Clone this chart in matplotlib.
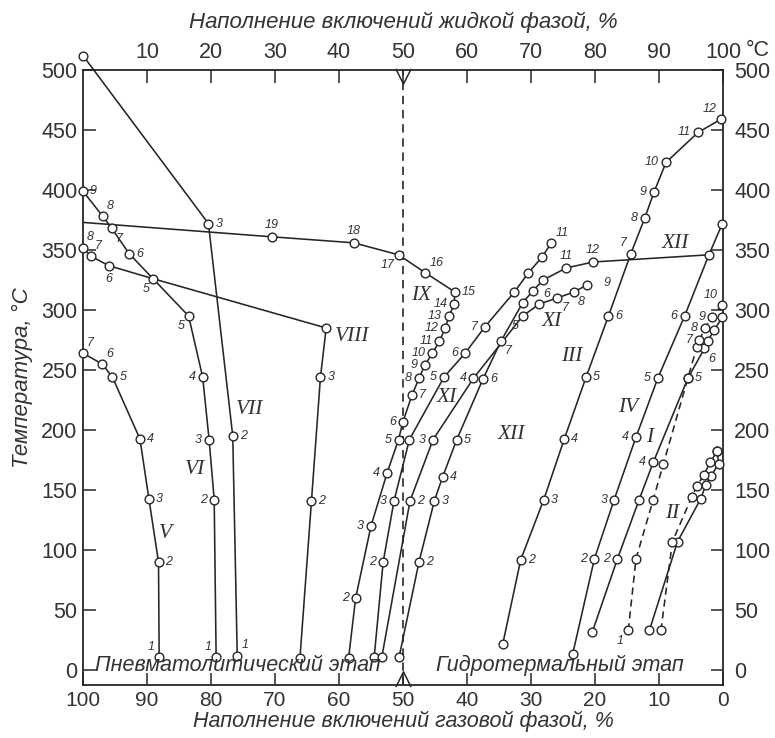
import matplotlib
matplotlib.use("Agg")
import matplotlib.pyplot as plt
from matplotlib.path import Path
from matplotlib.markers import MarkerStyle

# ---------------- data ----------------
# x: filling of inclusions with the liquid phase, %  (gas phase = 100 - x)
# t: temperature, °C ; points listed from No. 1 upwards
V_x = [11.9, 11.8, 10.3, 8.9, 4.6, 3.0, 0.0]
V_t = [11, 90, 142.5, 192.5, 244, 255, 264]
V_n = [1, 2, 3, 4, 5, 6, 7]

VI_x = [20.8, 20.5, 19.7, 18.7, 16.5, 7.2, 4.5, 3.1, 0.0]
VI_t = [11, 142, 192, 244, 295, 347, 368, 378, 399]
VI_n = [1, 2, 3, 4, 5, 6, 7, 8, 9]

VII_x = [24.1, 23.4, 19.6, 0.0]
VII_t = [12, 195, 372, 512]
VII_n = [1, 2, 3, 0]

VIII_x = [33.9, 35.7, 37.1, 38.0, 11.0, 4.0, 1.2, 0.0]
VIII_t = [10, 141, 244, 285, 326, 337, 345, 352]
VIII_n = [1, 2, 3, 4, 5, 6, 7, 8]

IX_x = [41.5, 42.6, 45.0, 47.5, 49.3, 50.0, 51.4, 52.5, 53.4, 54.6, 55.7,
        56.6, 57.2, 58.0, 58.1, 53.5, 49.3, 42.3, 29.5, 0.0]
IX_t = [10, 60, 120, 164, 192, 207, 229, 243, 254, 264, 274,
        285, 295, 305, 315, 331, 346, 356, 361, 373]
IX_n = [1, 2, 3, 4, 5, 6, 7, 8, 9, 10, 11, 12, 13, 14, 15, 16, 17, 18, 19, None]

XIa_x = [45.5, 46.9, 48.6, 51.0, 56.4, 59.7, 62.8, 67.4, 69.6, 71.7, 73.2]
XIa_t = [11, 90, 141, 192, 244, 264, 286, 315, 331, 344, 356]
XIa_n = [1, 2, 3, 4, 5, 6, 7, 8, 9, 10, 11]

XIb_x = [46.7, 51.1, 54.7, 61.0, 68.7, 71.3, 74.1, 76.7, 78.8]
XIb_t = [11, 141, 192, 243, 295, 305, 310, 315, 321]
XIb_n = [1, 2, 3, 4, 5, 6, 7, 8, 9]

XII_x = [49.4, 52.5, 54.9, 56.2, 58.4, 62.5, 65.3, 68.7, 70.3, 71.9, 75.5, 79.7, 97.8]
XII_t = [11, 90, 141, 161, 192, 242.5, 274, 306, 316, 325, 335, 340, 346]
XII_n = [1, 2, 3, 4, 5, 6, 7, 8, 9, 10, 11, 12, None]

III_x = [65.6, 68.4, 72.0, 75.2, 78.6, 82.1, 85.6, 87.8, 89.2, 91.1, 96.1, 99.7]
III_t = [22, 92, 142, 192.5, 244, 295, 347, 377, 398, 423, 448, 459]
III_n = [1, 2, 3, 4, 5, 6, 7, 8, 9, 10, 11, 12]

IV_x = [76.5, 79.9, 83.0, 86.4, 89.8, 94.0, 97.8, 99.9]
IV_t = [13, 92.5, 142, 194, 243, 295, 346, 372]
IV_n = [1, 2, 3, 4, 5, 6, 7, 8]

I_x = [79.6, 83.5, 86.9, 89.1, 94.5, 97.1, 97.6, 98.6, 99.9]
I_t = [32, 92.5, 142, 173, 243, 268, 274, 283, 294]
I_n = [1, 2, 3, 4, 5, 6, 7, 8, 9]

Id_x = [85.2, 86.4, 89.1, 90.7, 94.5, 95.9, 96.3, 97.2, 98.3, 99.8]
Id_t = [33, 92.5, 142, 172, 243, 269, 275, 285, 294.5, 304]
Id_n = [1, 2, 3, 4, 5, 6, 7, 8, 9, 10]

II_x = [88.5, 92.9, 96.5, 97.3, 98.2, 99.3, 99.1]
II_t = [33, 107, 142.5, 154, 162, 172, 182.5]
II_n = [1, 2, 3, 4, 5, 6, 7]

IId_x = [90.3, 92.1, 95.1, 95.9, 97.0, 98.0, 99.1]
IId_t = [33, 107, 144, 153, 162.5, 173, 182.5]
IId_n = [1, 2, 3, 4, 5, 6, 7]

ROMAN = ["V", "VI", "VII", "VIII", "IX", "XI", "XI", "XII", "XII", "III", "IV", "I", "II"]
ROMAN_x = [12.9, 17.5, 26.1, 42.0, 52.9, 56.8, 73.2, 67.0, 92.5, 76.4, 85.2, 88.6, 92.0]
ROMAN_t = [114, 167, 217, 278, 312, 227, 290, 196, 355.5, 261, 219, 194, 130]

STAGES = ["Пневматолитический этап", "Гидротермальный этап"]
STAGES_x = [24.2, 74.5]
STAGES_t = [4, 4]

top_ticks = [10, 20, 30, 40, 50, 60, 70, 80, 90, 100]
bottom_ticks = [0, 10, 20, 30, 40, 50, 60, 70, 80, 90, 100]
bottom_labels = ["100", "90", "80", "70", "60", "50", "40", "30", "20", "10", "0"]
y_ticks = [0, 50, 100, 150, 200, 250, 300, 350, 400, 450, 500]
boundary_x = 50

# ---------------- style ----------------
plt.rcParams['font.family'] = ['Liberation Sans', 'DejaVu Sans']
LC = '#262626'
LW = 1.15
TC = '#333333'

OFFS = {'r': (5, 0, 'left', 'center'), 'l': (-5, 0, 'right', 'center'),
        'ur': (3, 3, 'left', 'bottom'), 'ul': (-3, 3, 'right', 'bottom'),
        'dr': (3, -3, 'left', 'top'), 'dl': (-3, -3, 'right', 'top'),
        'u': (0, 4, 'center', 'bottom'), 'd': (0, -5, 'center', 'top'),
        'rr': (12, 1, 'left', 'center')}

LAB = {
    'V': {1: 'ul', 2: 'r', 3: 'r', 4: 'r', 5: 'r', 6: 'ur', 7: 'ur'},
    'VI': {1: 'ul', 2: 'l', 3: 'l', 4: 'l', 5: 'dl', 6: 'r', 7: 'dr', 8: 'ur', 9: 'r'},
    'VII': {1: 'ur', 2: 'r', 3: 'r'},
    'VIII': {2: 'r', 3: 'r', 5: 'dl', 6: 'd', 7: 'ur', 8: 'ur'},
    'IX': {2: 'l', 3: 'l', 4: 'l', 5: 'l', 6: 'l', 7: 'r', 8: 'l', 9: 'l', 10: 'l',
           11: 'l', 12: 'l', 13: 'l', 14: 'l', 15: 'r', 16: 'ur', 17: 'dl', 18: 'u', 19: 'u'},
    'XIa': {2: 'l', 3: 'l', 5: 'l', 6: 'l', 7: 'l', 11: 'ur'},
    'XIb': {2: 'r', 3: 'l', 4: 'l', 5: 'dl', 6: 'ur', 7: 'dr', 8: 'dr', 9: 'rr'},
    'XII': {2: 'r', 3: 'r', 4: 'r', 5: 'r', 6: 'r', 7: 'dr', 11: 'u', 12: 'u'},
    'III': {2: 'r', 3: 'r', 4: 'r', 5: 'r', 6: 'r', 7: 'ul', 8: 'l', 9: 'l', 10: 'l',
            11: 'l', 12: 'ul'},
    'IV': {2: 'l', 3: 'l', 4: 'l', 5: 'l', 6: 'l'},
    'I': {2: 'l', 4: 'l', 5: 'r', 6: 'dr'},
    'Id': {1: 'dl', 7: 'l', 8: 'l', 9: 'l', 10: 'ul'},
    'II': {},
    'IId': {},
}

fig = plt.figure(figsize=(7.75, 7.38), dpi=100)
ax = fig.add_axes([83 / 775, 1 - 685 / 738, 640 / 775, 615 / 738])
ax.set_xlim(0, 100)
ax.set_ylim(-12.5, 500)


def draw(name, x, t, n, dashed=False):
    kw = dict(color=LC, lw=LW, zorder=2, clip_on=False)
    if dashed:
        kw['dashes'] = (4.5, 3)
    ax.plot(x, t, **kw)
    mi = [i for i, v in enumerate(n) if v is not None]
    ax.plot([x[i] for i in mi], [t[i] for i in mi], ls='none', marker='o', ms=6.3,
            mfc='white', mec=LC, mew=1.0, zorder=3, clip_on=False)
    for i, v in enumerate(n):
        if v and v in LAB[name]:
            dx, dy, ha, va = OFFS[LAB[name][v]]
            ax.annotate(str(v), (x[i], t[i]), xytext=(dx, dy), textcoords='offset points',
                        ha=ha, va=va, fontsize=9, style='italic', color=TC, zorder=4)


# boundary between stages
ax.plot([boundary_x, boundary_x], [-12.5, 500], color=LC, lw=1.2, dashes=(5, 3.5), zorder=1)
vpath = Path([(-1, 1), (0, -1), (1, 1)], [Path.MOVETO, Path.LINETO, Path.LINETO])
ax.plot([boundary_x], [495], marker=MarkerStyle(vpath), ms=11, mfc='none', mec=LC,
        mew=1.1, clip_on=False, zorder=3)
apath = Path([(-1, -1), (0, 1), (1, -1)], [Path.MOVETO, Path.LINETO, Path.LINETO])
ax.plot([boundary_x], [-7.5], marker=MarkerStyle(apath), ms=11, mfc='none', mec=LC,
        mew=1.1, clip_on=False, zorder=3)

draw('V', V_x, V_t, V_n)
draw('VI', VI_x, VI_t, VI_n)
draw('VII', VII_x, VII_t, VII_n)
draw('VIII', VIII_x, VIII_t, VIII_n)
draw('IX', IX_x, IX_t, IX_n)
draw('XIa', XIa_x, XIa_t, XIa_n)
draw('XIb', XIb_x, XIb_t, XIb_n)
draw('XII', XII_x, XII_t, XII_n)
draw('III', III_x, III_t, III_n)
draw('IV', IV_x, IV_t, IV_n)
draw('I', I_x, I_t, I_n)
draw('Id', Id_x, Id_t, Id_n, dashed=True)
draw('II', II_x, II_t, II_n)
draw('IId', IId_x, IId_t, IId_n, dashed=True)

for r, x, t in zip(ROMAN, ROMAN_x, ROMAN_t):
    ax.text(x, t, r, family=['Liberation Serif', 'DejaVu Serif'], style='italic',
            fontsize=15.5, color=TC, ha='center', va='center', zorder=4)

for s, x, t in zip(STAGES, STAGES_x, STAGES_t):
    ax.text(x, t, s, style='italic', fontsize=15.5, color=TC, ha='center',
            va='center', zorder=4)

# axes, ticks
for sp in ax.spines.values():
    sp.set_color(LC)
    sp.set_linewidth(1.3)

ax.set_xticks(bottom_ticks)
ax.set_xticklabels(bottom_labels)
ax.set_yticks(y_ticks)
ax.tick_params(direction='in', length=9, width=1.1, colors=LC, labelcolor=TC,
               labelsize=15.5)
ax.tick_params(axis='x', pad=4, labelsize=15)
ax.tick_params(axis='y', pad=4)

top = ax.secondary_xaxis('top')
top.set_xticks(top_ticks)
top.set_xticklabels([str(v) for v in top_ticks])
top.tick_params(direction='in', length=9, width=1.1, colors=LC, labelcolor=TC,
                labelsize=15.5, pad=5)
top.spines['top'].set_visible(False)

right = ax.secondary_yaxis('right')
right.set_yticks(y_ticks)
right.tick_params(direction='in', length=9, width=1.1, colors=LC, labelcolor=TC,
                  labelsize=15.5, pad=8)
right.spines['right'].set_visible(False)

top.set_xlabel('Наполнение включений жидкой фазой, %', style='italic', fontsize=16,
               color=TC, labelpad=10)
ax.set_xlabel('Наполнение включений газовой фазой, %', style='italic', fontsize=15.5,
              color=TC, labelpad=1)
ax.set_ylabel('Температура, °C', style='italic', fontsize=16, color=TC, labelpad=6)
fig.text(758 / 775, 1 - 50 / 738, '°C', fontsize=15.5, color=TC, ha='center', va='center')

fig.savefig('out.png', dpi=100)
